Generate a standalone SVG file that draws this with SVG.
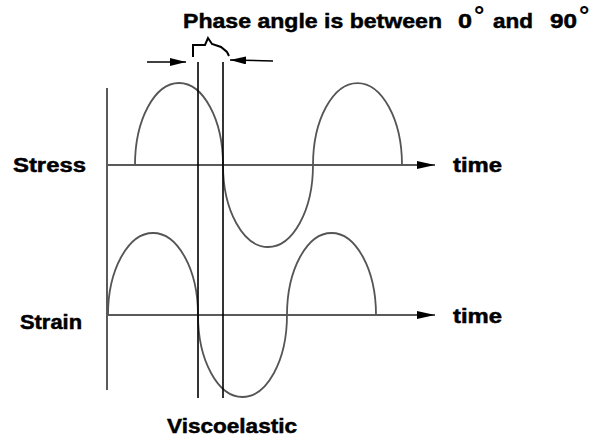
<svg xmlns="http://www.w3.org/2000/svg" width="594" height="439" viewBox="0 0 594 439">
<style>
  .lbl { font-family: "Liberation Sans", Arial, sans-serif; font-weight: bold; fill: #000; stroke: #000; stroke-width: 0.5; }
  .deg { font-family: "Liberation Sans", Arial, sans-serif; font-weight: bold; fill: #000; font-size: 26px; }
  .axis { stroke: #5a5a5a; stroke-width: 2; fill: none; }
  .wave { stroke: #555; stroke-width: 1.8; fill: none; }
  .vline { stroke: #000; stroke-width: 1.6; fill: none; }
  .arr { stroke: #000; stroke-width: 1.5; fill: none; }
  .brk { stroke: #000; stroke-width: 2; fill: none; }
</style>
<defs>
  <marker id="ah" viewBox="0 0 18 8" refX="18" refY="4" markerWidth="18" markerHeight="8" markerUnits="userSpaceOnUse" orient="auto">
    <path d="M0,0 L18,4 L0,8 Z" fill="#000"/>
  </marker>
  <marker id="ah2" viewBox="0 0 16 8" refX="16" refY="4" markerWidth="16" markerHeight="8" markerUnits="userSpaceOnUse" orient="auto">
    <path d="M0,0 L16,4 L0,8 Z" fill="#000"/>
  </marker>
</defs>
<rect width="594" height="439" fill="#fff"/>

<g id="title">
  <text class="lbl" x="183" y="28" font-size="21" textLength="259" lengthAdjust="spacingAndGlyphs">Phase angle is between</text>
  <text class="lbl" x="458" y="28" font-size="20" textLength="14" lengthAdjust="spacingAndGlyphs">0</text>
  <text class="deg" x="474" y="24">°</text>
  <text class="lbl" x="493" y="28" font-size="21" textLength="40" lengthAdjust="spacingAndGlyphs">and</text>
  <text class="lbl" x="550" y="28" font-size="20" textLength="27" lengthAdjust="spacingAndGlyphs">90</text>
  <text class="deg" x="579" y="24">°</text>
</g>

<g id="axes">
  <line class="axis" x1="107" y1="88" x2="107" y2="390"/>
  <line class="axis" x1="107" y1="165" x2="435" y2="165" marker-end="url(#ah)"/>
  <line class="axis" x1="107" y1="315" x2="435" y2="315" marker-end="url(#ah)"/>
</g>

<g id="stress-wave">
  <path class="wave" d="M135,165 A44,82 0 0 1 223,165 A45,82 0 0 0 313,165 A44.5,82 0 0 1 402,165"/>
</g>

<g id="strain-wave">
  <path class="wave" d="M108,315 A45,82 0 0 1 198,315 A44.5,82 0 0 0 287,315 A44.5,82 0 0 1 376,315"/>
</g>

<g id="phase-lines">
  <line class="vline" x1="198" y1="62" x2="198" y2="398"/>
  <line class="vline" x1="223" y1="62" x2="223" y2="398"/>
</g>

<g id="connectors">
  <line class="arr" x1="147" y1="62" x2="186" y2="62" marker-end="url(#ah2)"/>
  <line class="arr" x1="273" y1="61" x2="230" y2="60" marker-end="url(#ah2)"/>
  <path class="brk" d="M193,57 V45 H205 L208,38 L212,44 L221,47 L227,52 L229,56"/>
</g>

<g id="labels">
  <text class="lbl" x="13" y="172" font-size="20" textLength="73" lengthAdjust="spacingAndGlyphs">Stress</text>
  <text class="lbl" x="20" y="329" font-size="20" textLength="62" lengthAdjust="spacingAndGlyphs">Strain</text>
  <text class="lbl" x="453" y="172" font-size="20" textLength="49" lengthAdjust="spacingAndGlyphs">time</text>
  <text class="lbl" x="453" y="323" font-size="20" textLength="49" lengthAdjust="spacingAndGlyphs">time</text>
  <text class="lbl" x="167" y="433" font-size="21" textLength="130" lengthAdjust="spacingAndGlyphs">Viscoelastic</text>
</g>
</svg>
